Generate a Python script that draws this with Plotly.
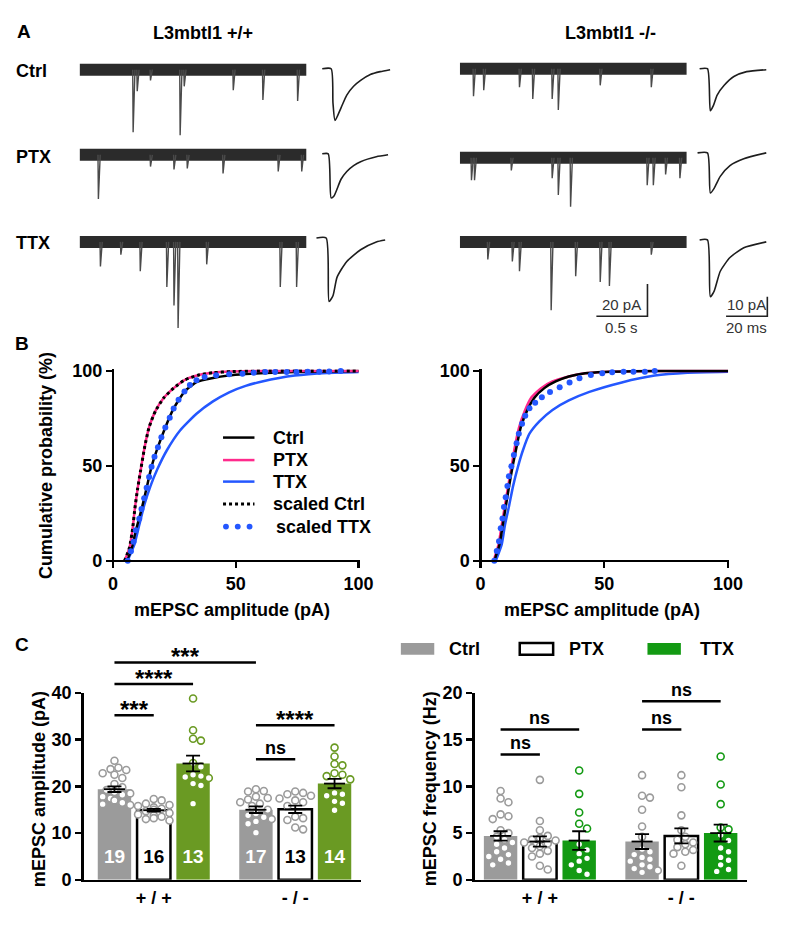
import plotly.graph_objects as go

W, H = 800, 927
FONT = "Liberation Sans, Arial, sans-serif"

# ---------------- Panel A data: spontaneous events (time s, amplitude pA) ----------------
wt_ctrl_t = [0.52, 0.56, 0.69, 0.98, 1.02, 1.50, 1.79, 2.13]
wt_ctrl_a = [38.8, 13.3, 6.7, 40.6, 10.3, 12.7, 18.8, 19.4]
wt_ptx_t = [0.18, 0.69, 0.92, 1.05, 1.40, 1.94, 2.17]
wt_ptx_a = [27.3, 7.3, 9.1, 8.5, 11.5, 10.3, 10.3]
wt_ttx_t = [0.20, 0.40, 0.59, 0.85, 0.92, 0.96, 1.24, 1.96, 2.12]
wt_ttx_a = [15.2, 7.9, 18.2, 27.9, 39.4, 53.3, 13.9, 27.9, 27.9]
ko_ctrl_t = [0.13, 0.23, 0.58, 0.71, 0.90, 0.96, 1.37, 1.87]
ko_ctrl_a = [17.0, 13.3, 11.5, 18.8, 18.8, 25.5, 10.3, 11.5]
ko_ptx_t = [0.11, 0.14, 0.50, 0.90, 0.96, 1.08, 1.83, 1.89, 2.01, 2.15]
ko_ptx_a = [13.9, 13.9, 7.9, 12.7, 23.0, 30.3, 17.0, 17.0, 10.3, 12.7]
ko_ttx_t = [0.27, 0.51, 0.58, 0.89, 1.13, 1.37, 1.46, 1.87]
ko_ttx_a = [10.9, 12.1, 18.2, 42.4, 21.2, 24.8, 27.3, 7.9]

# averaged mEPSCs (time ms, current pA)
wt_ctrl_avg_t = [3.8, 8.1, 9.0, 10.0, 12.9, 15.7, 19.0, 22.4, 27.1, 31.9, 36.7]
wt_ctrl_avg_i = [0, 0, -17.5, -26.5, -20.0, -13.5, -9.0, -6.0, -3.0, -1.5, -0.5]
wt_ptx_avg_t = [3.8, 6.7, 8.1, 9.5, 12.9, 15.7, 19.0, 22.4, 30.0, 35.7]
wt_ptx_avg_i = [0, 0, -22.5, -21.5, -13.0, -9.0, -6.0, -4.0, -1.5, -0.5]
wt_ttx_avg_t = [1.0, 5.7, 7.1, 9.0, 11.0, 15.7, 22.4, 30.0, 34.3]
wt_ttx_avg_i = [0, 0, -32.5, -29.5, -20.0, -12.0, -6.0, -2.0, -1.0]
ko_ctrl_avg_t = [2.9, 6.7, 8.1, 9.5, 11.4, 14.8, 19.5, 25.7, 35.2]
ko_ctrl_avg_i = [0, 0, -21.5, -19.0, -13.5, -8.5, -4.0, -1.5, -0.5]
ko_ptx_avg_t = [1.9, 6.7, 8.1, 10.0, 12.9, 17.6, 24.3, 35.2]
ko_ptx_avg_i = [0, 0, -20.5, -18.0, -12.0, -6.5, -3.0, 0]
ko_ttx_avg_t = [2.9, 6.7, 8.1, 10.0, 12.9, 17.6, 24.3, 35.2]
ko_ttx_avg_i = [0, 0, -29.0, -26.0, -16.0, -9.0, -4.0, -1.0]

# ---------------- Panel B data: cumulative distributions ----------------
wt_ptx_x = [4.7, 6.7, 8.0, 8.9, 10.0, 11.3, 12.9, 14.7, 17.3, 20.7, 24.7, 29.3, 35.3, 40.7, 48, 60, 80, 100]
wt_ptx_p = [0, 6.9, 17, 27.5, 37.8, 48, 60, 70.4, 79, 85.9, 91, 95.4, 98, 99.1, 99.7, 100, 100, 100]
wt_sctrl_x = [4.7, 6.7, 8.0, 8.9, 10.0, 11.3, 12.9, 14.7, 17.3, 20.7, 24.7, 29.3, 35.3, 40.7, 48, 60, 80, 100]
wt_sctrl_p = [0, 6.9, 17, 27.5, 37.8, 48, 60, 70.4, 79, 85.9, 91, 95.4, 98, 99.1, 99.7, 100, 100, 100]
wt_ctrl_x = [5.5, 7.3, 9.3, 11.6, 13.7, 15.7, 18.3, 21.3, 24.7, 29.1, 34.0, 40.7, 47, 54, 62, 74, 87, 100]
wt_ctrl_p = [0, 5, 16, 27, 38.5, 49.6, 60, 70.3, 80.3, 89.2, 94.2, 96.3, 97.6, 98.4, 99, 99.5, 99.8, 100]
wt_ttx_x = [5.9, 8.7, 10.7, 12.7, 15.3, 18, 22, 27.3, 34, 40.7, 47.3, 54, 60.7, 74, 87.3, 100]
wt_ttx_p = [0, 8.6, 18.9, 29.2, 39.5, 48.1, 58.4, 68.7, 77.5, 84, 88.8, 92.2, 94.5, 97.6, 99, 99.5]
wt_sttx_x = [6, 7.3, 8.4, 9.3, 10.7, 11.6, 12.7, 13.7, 14.7, 15.7, 16.9, 18.3, 19.7, 21.3, 23.1, 24.7,
             26.7, 29.1, 31.3, 34, 37.3, 42, 47.3, 52.7, 57.3, 62, 66, 70.7, 74.7, 79.3, 84, 88, 92.7]
wt_sttx_p = [0, 5, 10.1, 16.1, 22.2, 27.3, 33, 38.5, 44.2, 49.6, 54.8, 59.9, 65.1, 70.3, 75.4, 80.3,
             84.9, 89.2, 92.6, 95.2, 96.9, 97.8, 98.3, 98.6, 99.1, 99.5, 99.5, 99.5, 99.5, 99.6, 99.6, 99.7, 100]

ko_ptx_x = [5.3, 7.3, 8.6, 9.9, 11.2, 12.6, 13.9, 15.6, 17.9, 20.5, 24.5, 29.1, 35.7, 42.3, 50, 62, 80, 100]
ko_ptx_p = [0, 8.6, 18.9, 29.2, 39.5, 49.8, 60.1, 70.4, 79, 85.9, 91, 94.5, 97.1, 98.8, 99.5, 99.9, 100, 100]
ko_ctrl_x = [5.6, 7.7, 9.0, 10.3, 11.6, 13.0, 14.6, 16.3, 18.8, 21.8, 25.8, 30.4, 35.7, 42.3, 50, 62, 80, 100]
ko_ctrl_p = [0, 8.6, 18.9, 29.2, 39.5, 49.8, 60.1, 70.4, 79, 85.9, 91, 94.5, 97.1, 98.8, 99.5, 99.9, 100, 100]
ko_ttx_x = [6.2, 8.6, 9.9, 11.6, 13.2, 15.2, 17.2, 19.8, 23.8, 29.1, 35.7, 44, 57.1, 70.4, 83.6, 100]
ko_ttx_p = [0, 8.6, 18.9, 29.2, 39.5, 49.8, 58.4, 67, 73.5, 79.5, 84.5, 89.0, 94.0, 97.6, 99.1, 99.6]
ko_sttx_x = [5.6, 6.6, 7.5, 8.2, 8.9, 9.5, 10.2, 10.9, 11.5, 12.5, 13.5, 14.6, 15.5, 16.8, 18.1, 19.8,
             22.1, 24.8, 28.1, 32, 36, 40, 44.6, 49.2, 53.2, 57.8, 61.8, 66.4, 70.4]
ko_sttx_p = [0, 5.2, 10.3, 17.2, 22.3, 28.4, 33.5, 39.5, 44.6, 49.8, 55.8, 61.9, 67, 72.2, 76.4, 80.4,
             83.3, 86.2, 89, 91.4, 94, 96.2, 97.9, 98.8, 99.3, 99.6, 99.6, 99.6, 100]

# ---------------- Panel C data ----------------
conditions = ["Ctrl", "PTX", "TTX"]
genotypes = ["+ / +", "- / -"]
cell_counts = [19, 16, 13, 17, 13, 14]

amp_mean = [19.4, 14.9, 24.9, 15.0, 15.1, 20.6]
amp_sem = [0.6, 0.3, 1.7, 0.7, 0.8, 1.0]
amp_wt_ctrl = [25.5, 24.0, 23.7, 23.5, 22.8, 22.5, 21.8, 20.5, 19.8, 19.2, 18.8, 18.5, 18.2, 17.8, 17.4, 17.0, 16.5, 16.2, 16.0]
amp_wt_ptx = [17.3, 17.0, 16.3, 16.0, 15.8, 15.5, 15.2, 15.0, 14.7, 14.3, 14.0, 13.8, 13.5, 13.2, 13.0, 12.7]
amp_wt_ttx = [38.8, 32.0, 30.2, 29.8, 25.0, 24.2, 22.5, 22.2, 22.0, 21.8, 20.6, 20.2, 16.3]
amp_ko_ctrl = [19.4, 19.0, 18.9, 17.8, 17.5, 17.2, 16.6, 16.3, 15.8, 15.0, 14.2, 13.8, 13.4, 13.0, 12.5, 12.0, 10.1]
amp_ko_ptx = [18.9, 18.6, 18.3, 18.0, 17.4, 17.0, 16.6, 15.8, 13.5, 13.2, 12.8, 11.2, 10.8]
amp_ko_ttx = [28.3, 26.4, 24.8, 24.5, 22.8, 22.5, 22.2, 21.5, 18.6, 18.3, 18.0, 16.8, 16.4, 14.9]

freq_mean = [4.7, 4.1, 4.2, 4.1, 4.7, 5.0]
freq_sem = [0.5, 0.55, 1.0, 0.8, 0.8, 0.9]
freq_wt_ctrl = [9.5, 8.7, 8.3, 7.0, 6.8, 6.5, 5.3, 5.0, 4.6, 4.3, 4.0, 3.8, 3.4, 3.0, 2.7, 2.5, 2.2, 1.8, 1.6]
freq_wt_ptx = [10.7, 6.3, 5.3, 4.7, 4.5, 4.3, 4.2, 4.0, 3.9, 3.6, 3.4, 3.1, 2.8, 2.5, 1.5, 1.1]
freq_wt_ttx = [11.7, 9.2, 7.2, 6.0, 5.5, 3.8, 3.2, 2.8, 2.3, 2.0, 1.6, 1.0, 0.6]
freq_ko_ctrl = [11.2, 9.0, 8.8, 7.5, 5.7, 4.6, 3.3, 3.0, 2.7, 2.4, 2.2, 2.0, 1.6, 1.4, 1.2, 1.0, 0.8]
freq_ko_ptx = [11.2, 9.9, 6.9, 5.3, 4.6, 4.3, 4.0, 3.8, 3.5, 3.2, 3.0, 2.8, 1.5]
freq_ko_ttx = [13.2, 10.2, 8.1, 5.6, 5.4, 4.8, 4.2, 3.4, 3.0, 2.4, 2.1, 1.6, 1.1, 0.9]

amp_sig = [(0, 1, 35.2, "***"), (0, 2, 41.9, "****"), (0, 3, 46.5, "***"),
           (3, 5, 33.1, "****"), (3, 4, 25.8, "ns")]
freq_sig = [(0, 1, 13.4, "ns"), (0, 2, 16.1, "ns"), (3, 4, 16.1, "ns"), (3, 5, 19.1, "ns")]

# ---------------- styling constants ----------------
TRACE_DARK = "#2b2b2b"
GREY = "#9b9b9b"
OLIVE = "#6a9a23"
GREEN = "#139a13"
PINK = "#ff2a8c"
BLUE = "#2457ff"

PX_PER_S, PX_PER_PA_RAW = 104.0, 1.65
PX_PER_MS, PX_PER_PA_AVG = 2.1, 2.0


def fx(px):
    return px / W


def fy(py):
    return 1 - py / H


def xdom(a, b):
    return [fx(a), fx(b)]


def ydom(top, bottom):
    return [fy(bottom), fy(top)]


fig = go.Figure()
layout = dict(width=W, height=H, margin=dict(l=0, r=0, t=0, b=0),
              paper_bgcolor="white", plot_bgcolor="rgba(0,0,0,0)", showlegend=False,
              font=dict(family=FONT, size=16, color="black"))
shapes, annotations = [], []

# ---------------- Panel A axes ----------------
hidden = dict(visible=False, showgrid=False, zeroline=False, fixedrange=True)
A_TOP, A_BOT = 40, 330
raw_span_y = (A_BOT - A_TOP) / PX_PER_PA_RAW
avg_span_y = (A_BOT - A_TOP) / PX_PER_PA_AVG
layout["xaxis"] = dict(domain=xdom(81, 312), range=[0, 231 / PX_PER_S], anchor="y", **hidden)
layout["yaxis"] = dict(domain=ydom(A_TOP, A_BOT), range=[-raw_span_y, 0], anchor="x", **hidden)
layout["xaxis2"] = dict(domain=xdom(320, 400), range=[0, 80 / PX_PER_MS], anchor="y2", **hidden)
layout["yaxis2"] = dict(domain=ydom(A_TOP, A_BOT), range=[-avg_span_y, 0], anchor="x2", **hidden)
layout["xaxis3"] = dict(domain=xdom(468, 699), range=[0, 231 / PX_PER_S], anchor="y3", **hidden)
layout["yaxis3"] = dict(domain=ydom(A_TOP, A_BOT), range=[-raw_span_y, 0], anchor="x3", **hidden)
layout["xaxis4"] = dict(domain=xdom(706, 786), range=[0, 80 / PX_PER_MS], anchor="y4", **hidden)
layout["yaxis4"] = dict(domain=ydom(A_TOP, A_BOT), range=[-avg_span_y, 0], anchor="x4", **hidden)

RAW_DUR = 231 / PX_PER_S


def raw_off(py):
    return -(py - A_TOP) / PX_PER_PA_RAW


def avg_off(py):
    return -(py - A_TOP) / PX_PER_PA_AVG


def add_raw(ts, amps, base_py, xa, ya):
    off = raw_off(base_py)
    fig.add_trace(go.Scatter(x=[0, RAW_DUR], y=[off, off], mode="lines", xaxis=xa, yaxis=ya,
                             line=dict(color=TRACE_DARK, width=12), hoverinfo="skip"))
    xs, ys = [], []
    for t, a in zip(ts, amps):
        xs += [t, t + 0.004, t + 0.022, None]
        ys += [off, off - a, off, None]
    fig.add_trace(go.Scatter(x=xs, y=ys, mode="lines", xaxis=xa, yaxis=ya,
                             line=dict(color="#4a4a4a", width=1.4), hoverinfo="skip"))


def add_avg(ts, cur, base_py, xa, ya):
    off = avg_off(base_py)
    fig.add_trace(go.Scatter(x=ts, y=[off + c for c in cur], mode="lines", xaxis=xa, yaxis=ya,
                             line=dict(color="#1e1e1e", width=1.6, shape="spline", smoothing=0.6),
                             hoverinfo="skip"))


add_raw(wt_ctrl_t, wt_ctrl_a, 61, "x", "y")
add_raw(wt_ptx_t, wt_ptx_a, 148, "x", "y")
add_raw(wt_ttx_t, wt_ttx_a, 237, "x", "y")
add_raw(ko_ctrl_t, ko_ctrl_a, 60, "x3", "y3")
add_raw(ko_ptx_t, ko_ptx_a, 151, "x3", "y3")
add_raw(ko_ttx_t, ko_ttx_a, 237, "x3", "y3")
add_avg(wt_ctrl_avg_t, wt_ctrl_avg_i, 60, "x2", "y2")
add_avg(wt_ptx_avg_t, wt_ptx_avg_i, 147, "x2", "y2")
add_avg(wt_ttx_avg_t, wt_ttx_avg_i, 233, "x2", "y2")
add_avg(ko_ctrl_avg_t, ko_ctrl_avg_i, 60, "x4", "y4")
add_avg(ko_ptx_avg_t, ko_ptx_avg_i, 146, "x4", "y4")
add_avg(ko_ttx_avg_t, ko_ttx_avg_i, 235, "x4", "y4")

# scale bars (20 pA / 0.5 s on raw axes; 10 pA / 20 ms on average axes)
sb_t_end, sb_y = (659 - 468) / PX_PER_S, raw_off(313)
fig.add_trace(go.Scatter(x=[sb_t_end - 0.5, sb_t_end, sb_t_end], y=[sb_y, sb_y, sb_y + 20],
                         mode="lines", xaxis="x3", yaxis="y3", line=dict(color="#222", width=1.6)))
sb2_t_end, sb2_y = (781 - 706) / PX_PER_MS, avg_off(313)
fig.add_trace(go.Scatter(x=[sb2_t_end - 20, sb2_t_end, sb2_t_end], y=[sb2_y, sb2_y, sb2_y + 10],
                         mode="lines", xaxis="x4", yaxis="y4", line=dict(color="#222", width=1.6)))


def text(x, y, s, size=18, bold=True, color="black", xanchor="center", angle=0, xref="paper", yref="paper"):
    annotations.append(dict(x=x, y=y, xref=xref, yref=yref, text=s, showarrow=False, xanchor=xanchor,
                            yanchor="middle", textangle=angle,
                            font=dict(family=FONT, size=size, color=color,
                                      weight="bold" if bold else "normal")))


text(fx(633), fy(301), "20 pA", size=15, bold=False, color="#333")
text(fx(633), fy(324), "0.5 s", size=15, bold=False, color="#333")
text(fx(760), fy(301), "10 pA", size=15, bold=False, color="#333")
text(fx(760), fy(324), "20 ms", size=15, bold=False, color="#333")

text(fx(24), fy(22), "A", size=19)
text(fx(207), fy(23), "L3mbtl1 +/+", size=18)
text(fx(621), fy(23), "L3mbtl1 -/-", size=18)
text(fx(14), fy(62), "Ctrl", size=18, xanchor="left")
text(fx(14), fy(150), "PTX", size=18, xanchor="left")
text(fx(14), fy(238), "TTX", size=18, xanchor="left")

# ---------------- Panel B ----------------
B_Y0, B_Y100 = 563, 369
b_ppu_y = (B_Y0 - B_Y100) / 100
tickfont = dict(family=FONT, size=18, color="black", weight="bold")


def b_axes(n, x0px, x100px):
    ppu = (x100px - x0px) / 100
    layout[f"xaxis{n}"] = dict(domain=xdom(x0px - 3 * ppu, x0px + 100.5 * ppu), range=[-3, 100.5],
                               anchor="free", position=fy(B_Y0), showline=True, linecolor="black",
                               linewidth=2.5, ticks="outside", ticklen=6, tickwidth=2.5, tickcolor="black",
                               tickvals=[0, 50, 100], tickfont=tickfont, showgrid=False, zeroline=False,
                               fixedrange=True)
    layout[f"yaxis{n}"] = dict(domain=ydom(B_Y100 - 1 * b_ppu_y, B_Y0 + 3 * b_ppu_y), range=[-3, 101],
                               anchor="free", position=fx(x0px), showline=True, linecolor="black",
                               linewidth=2.5, ticks="outside", ticklen=6, tickwidth=2.5, tickcolor="black",
                               tickvals=[0, 50, 100], tickfont=tickfont, showgrid=False, zeroline=False,
                               fixedrange=True)


b_axes(5, 115, 365)
b_axes(6, 489, 741)


def cdf(x, p, color, xa, ya, dash="solid", width=2.5):
    fig.add_trace(go.Scatter(x=x, y=p, mode="lines", xaxis=xa, yaxis=ya,
                             line=dict(color=color, width=width, dash=dash, shape="spline", smoothing=0.5)))


cdf(wt_ttx_x, wt_ttx_p, BLUE, "x5", "y5")
cdf(wt_ctrl_x, wt_ctrl_p, "black", "x5", "y5")
cdf(wt_ptx_x, wt_ptx_p, PINK, "x5", "y5")
cdf(wt_sctrl_x, wt_sctrl_p, "black", "x5", "y5", dash="dot", width=3)
fig.add_trace(go.Scatter(x=wt_sttx_x, y=wt_sttx_p, mode="markers", xaxis="x5", yaxis="y5", cliponaxis=False,
                         marker=dict(color=BLUE, size=6)))
cdf(ko_ttx_x, ko_ttx_p, BLUE, "x6", "y6")
cdf(ko_ptx_x, ko_ptx_p, PINK, "x6", "y6")
cdf(ko_ctrl_x, ko_ctrl_p, "black", "x6", "y6")
fig.add_trace(go.Scatter(x=ko_sttx_x, y=ko_sttx_p, mode="markers", xaxis="x6", yaxis="y6", cliponaxis=False,
                         marker=dict(color=BLUE, size=6)))

text(fx(22), fy(341), "B", size=19)
text(fx(47), fy(466), "Cumulative probability (%)", size=18, angle=-90)
text(fx(236), fy(613), "mEPSC amplitude (pA)", size=18)
text(fx(613), fy(613), "mEPSC amplitude (pA)", size=18)

# legend of panel B
leg_rows = [("Ctrl", 437, "black", "solid"), ("PTX", 460, PINK, "solid"), ("TTX", 482, BLUE, "solid"),
            ("scaled Ctrl", 505, "black", "dot"), ("scaled TTX", 528, BLUE, "dots")]
for name, py, col, style in leg_rows:
    if style == "dots":
        for cx in (230, 242, 254):
            shapes.append(dict(type="circle", xref="paper", yref="paper", x0=fx(cx - 3), x1=fx(cx + 3),
                               y0=fy(py + 3), y1=fy(py - 3), fillcolor=col, line=dict(width=0)))
    else:
        shapes.append(dict(type="line", xref="paper", yref="paper", x0=fx(227), x1=fx(259), y0=fy(py), y1=fy(py),
                           line=dict(color=col, width=3 if style == "dot" else 2.5,
                                     dash="dot" if style == "dot" else "solid")))
    text(fx(276 if style != "dots" else 279), fy(py), name, size=18, xanchor="left")

# ---------------- Panel C ----------------
C_TOP, C_BOT = 698, 889
UNIT_PX = 40
positions = [0, 1, 2, 3.6, 4.6, 5.6]
group_centers = [1, 4.6]


def c_axes(n, left_px, center0_px, right_px, ymax, dtick):
    layout[f"xaxis{n}"] = dict(domain=xdom(left_px, right_px),
                               range=[(left_px - center0_px) / UNIT_PX, (right_px - center0_px) / UNIT_PX],
                               anchor=f"y{n}", showline=True, linecolor="black", linewidth=2.5,
                               ticks="", tickvals=group_centers, ticktext=genotypes, tickfont=tickfont,
                               showgrid=False, zeroline=False, fixedrange=True)
    layout[f"yaxis{n}"] = dict(domain=ydom(C_TOP, C_BOT), range=[0, ymax], anchor=f"x{n}", showline=True,
                               linecolor="black", linewidth=2.5, ticks="outside", ticklen=6, tickwidth=2.5,
                               tickcolor="black", tickvals=list(range(0, ymax + 1, dtick)), tickfont=tickfont,
                               showgrid=False, zeroline=False, fixedrange=True)


c_axes(7, 85, 116.5, 367, 40, 10)
c_axes(8, 483, 509.5, 760, 20, 5)


def swarm(groups, ppu_y, marker_d=7.6):
    xs, ys = [], []
    for pos, vals in zip(positions, groups):
        placed = []
        for v in sorted(vals, reverse=True):
            vy = v * ppu_y
            best = None
            for k in [0, 4, -4, 8, -8, 12, -12, 16, -16]:
                if all(((k - px) ** 2 + (vy - py) ** 2) ** 0.5 >= marker_d for px, py in placed):
                    best = k
                    break
            if best is None:
                best = 0
            placed.append((best, vy))
            xs.append(pos + best / UNIT_PX)
            ys.append(v)
    return xs, ys


def c_chart(n, means, sems, groups, ttx_color, ppu_y, counts=None):
    bar_cols = [GREY, "white", ttx_color] * 2
    line_cols = ["rgba(0,0,0,0)", "black", "rgba(0,0,0,0)"] * 2
    line_w = [0, 2.5, 0] * 2
    fig.add_trace(go.Bar(x=positions, y=means, width=0.85, xaxis=f"x{n}", yaxis=f"y{n}",
                         marker=dict(color=bar_cols, line=dict(color=line_cols, width=line_w))))
    xs, ys = swarm(groups, ppu_y)
    edge = []
    for i, vals in enumerate(groups):
        edge += [[GREY, GREY, ttx_color][i % 3]] * len(vals)
    fig.add_trace(go.Scatter(x=xs, y=ys, mode="markers", xaxis=f"x{n}", yaxis=f"y{n}", cliponaxis=False,
                             marker=dict(symbol="circle", size=7, color="white", line=dict(color=edge, width=1.6))))
    fig.add_trace(go.Scatter(x=positions, y=means, mode="markers", xaxis=f"x{n}", yaxis=f"y{n}", cliponaxis=False,
                             marker=dict(symbol="line-ew", size=15, line=dict(color="black", width=1.8)),
                             error_y=dict(type="data", array=sems, color="black", thickness=1.8, width=7)))
    if counts is not None:
        fig.add_trace(go.Scatter(x=positions, y=[(C_BOT - 867) / ppu_y] * 6, mode="text", xaxis=f"x{n}",
                                 yaxis=f"y{n}", text=[str(c) for c in counts],
                                 textfont=dict(family=FONT, size=19, weight="bold",
                                               color=["white", "black", "white"] * 2)))


amp_ppu = (C_BOT - C_TOP) / 40
freq_ppu = (C_BOT - C_TOP) / 20
c_chart(7, amp_mean, amp_sem, [amp_wt_ctrl, amp_wt_ptx, amp_wt_ttx, amp_ko_ctrl, amp_ko_ptx, amp_ko_ttx],
        OLIVE, amp_ppu, cell_counts)
c_chart(8, freq_mean, freq_sem, [freq_wt_ctrl, freq_wt_ptx, freq_wt_ttx, freq_ko_ctrl, freq_ko_ptx, freq_ko_ttx],
        GREEN, freq_ppu)


def sig_bars(n, sigs, ppu_y):
    for i, j, level, label in sigs:
        py = C_BOT - level * ppu_y
        shapes.append(dict(type="line", xref=f"x{n}", yref="paper", x0=positions[i], x1=positions[j],
                           y0=fy(py), y1=fy(py), line=dict(color="black", width=2.5)))
        is_star = label.startswith("*")
        text((positions[i] + positions[j]) / 2, fy(py - (6 if is_star else 12)), label,
             size=24 if is_star else 18, xref=f"x{n}")


sig_bars(7, amp_sig, amp_ppu)
sig_bars(8, freq_sig, freq_ppu)

text(fx(22), fy(649), "C", size=19)
text(fx(40), fy(796), "mEPSC amplitude (pA)", size=18, angle=-90)
text(fx(437), fy(796), "mEPSC frequency (Hz)", size=18, angle=-90)

# legend of panel C
for (name, x0, x1, tx, fill, edgec) in [("Ctrl", 408, 442, 455, GREY, GREY),
                                         ("PTX", 529, 563, 577, "white", "black"),
                                         ("TTX", 659, 693, 710, GREEN, GREEN)]:
    shapes.append(dict(type="rect", xref="paper", yref="paper", x0=fx(x0), x1=fx(x1), y0=fy(659), y1=fy(647),
                       fillcolor=fill, line=dict(color=edgec, width=2.5 if fill == "white" else 0)))
    text(fx(tx), fy(653), name, size=18, xanchor="left")

layout["shapes"] = shapes
layout["annotations"] = annotations
layout["bargap"] = 0
layout["dragmode"] = False
fig.update_layout(**layout)

page_fix = (
    "var g=document.getElementById('{plot_id}');"
    "g.style.overflow='hidden';"
    "[document.documentElement,document.body].forEach(function(e){e.style.margin='0';e.style.padding='0';"
    "e.style.overflow='hidden';});"
)
fig.write_html("out.html", config={"displayModeBar": False, "staticPlot": True}, post_script=page_fix)
